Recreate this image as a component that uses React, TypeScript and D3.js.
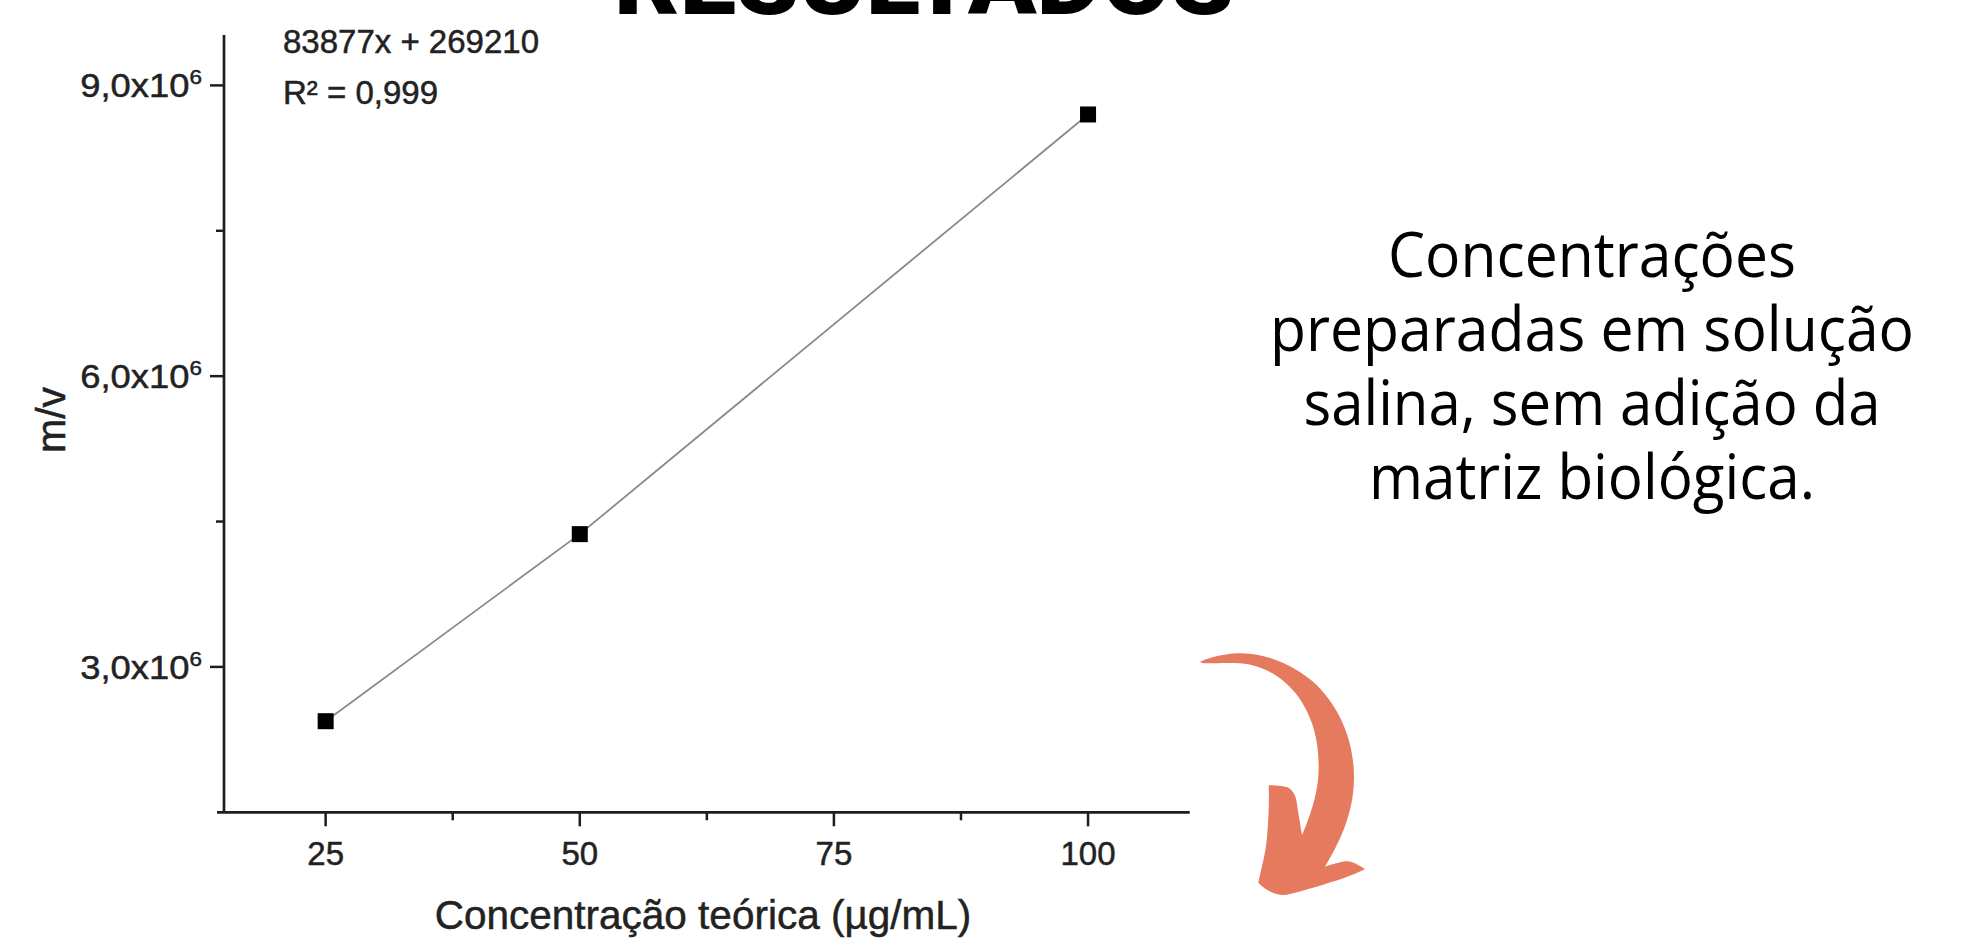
import React from "react";
import * as d3 from "d3";

const concentrations = [25, 50, 100];
const responses = [2.44e6, 4.37e6, 8.7e6];
const xMajorTicks = [25, 50, 75, 100];
const xMinorTicks = [37.5, 62.5, 87.5];
const yMajorTicks = [3e6, 6e6, 9e6];
const yMinorTicks = [4.5e6, 7.5e6];
const yTickLabels = ["3,0x10", "6,0x10", "9,0x10"];
const yTickExponent = "6";
const equationLines = ["83877x + 269210", "R² = 0,999"];
const xTitle = "Concentração teórica (µg/mL)";
const yTitle = "m/v";
const pageTitle = "RESULTADOS";
const noteLines = [
  "Concentrações",
  "preparadas em solução",
  "salina, sem adição da",
  "matriz biológica.",
];
const noteWidths = [408, 644, 577, 446];

const W = 1965;
const H = 939;
const axisColor = "#1e1e1e";
const textColor = "#222";
const chartFont = "'Liberation Sans', Arial, sans-serif";
const textStroke = { stroke: "#222", strokeWidth: 0.5 };

export default function App() {
  const x = d3.scaleLinear().domain([15, 110]).range([224, 1189.7]);
  const y = d3.scaleLinear().domain([1.5e6, 9.52e6]).range([812.3, 35]);
  const pts = concentrations.map((c, i) => [c, responses[i]] as [number, number]);
  const line = d3
    .line<[number, number]>()
    .x((d) => x(d[0]))
    .y((d) => y(d[1]));

  const x0 = x(15);
  const yBase = y(1.5e6);
  const majorLen = 14;
  const minorLen = 8;
  const sq = 16;

  const arrowPath =
    "M150,185 C200,165 240,160 275,160 C360,162 440,200 500,255 C575,330 612,430 612,530 " +
    "C612,620 585,700 525,800 C560,790 585,780 605,786 C620,792 635,800 645,808 " +
    "C600,830 560,842 500,860 C470,868 440,878 410,884 C385,888 355,878 325,848 " +
    "C335,800 348,760 352,700 C356,650 358,600 356,556 C375,555 395,557 412,562 " +
    "C430,570 440,590 442,620 C447,650 452,680 456,705 C480,650 500,590 505,530 " +
    "C510,440 495,370 455,305 C410,235 340,195 270,190 C230,188 200,190 180,190 " +
    "C165,190 155,190 150,185 Z";

  return (
    <svg
      width={W}
      height={H}
      style={{ position: "absolute", left: 0, top: 0, background: "#fff" }}
    >
      <rect x={0} y={0} width={W} height={H} fill="#fff" />
      {/* page title, cut at top */}
      <text
        x={614}
        y={14}
        fontFamily="Roboto, 'DejaVu Sans', sans-serif"
        fontWeight={900}
        fontSize={95}
        textLength={620}
        lengthAdjust="spacingAndGlyphs"
        fill="#000"
      >
        {pageTitle}
      </text>

      {/* axes */}
      <line x1={x0 - 7} x2={x(110)} y1={yBase} y2={yBase} stroke={axisColor} strokeWidth={2.7} />
      <line x1={x0} x2={x0} y1={yBase} y2={y(9.52e6)} stroke={axisColor} strokeWidth={2.7} />

      {xMajorTicks.map((t) => (
        <g key={"xt" + t}>
          <line x1={x(t)} x2={x(t)} y1={yBase} y2={yBase + majorLen} stroke={axisColor} strokeWidth={2.5} />
          <text
            x={x(t)}
            y={865}
            textAnchor="middle"
            fontFamily={chartFont}
            fontSize={33}
            fill={textColor}
            {...textStroke}
          >
            {t}
          </text>
        </g>
      ))}
      {xMinorTicks.map((t) => (
        <line key={"xm" + t} x1={x(t)} x2={x(t)} y1={yBase} y2={yBase + minorLen} stroke={axisColor} strokeWidth={2.5} />
      ))}
      {yMajorTicks.map((t, i) => (
        <g key={"yt" + t}>
          <line x1={x0 - majorLen} x2={x0} y1={y(t)} y2={y(t)} stroke={axisColor} strokeWidth={2.5} />
          <g transform={`translate(202,${y(t) + 12}) scale(1.07,1)`}>
            <text
              x={0}
              y={0}
              textAnchor="end"
              fontFamily={chartFont}
              fontSize={34}
              fill={textColor}
              {...textStroke}
            >
              {yTickLabels[i]}
              <tspan dy={-13} fontSize={21}>
                {yTickExponent}
              </tspan>
            </text>
          </g>
        </g>
      ))}
      {yMinorTicks.map((t) => (
        <line key={"ym" + t} x1={x0 - minorLen} x2={x0} y1={y(t)} y2={y(t)} stroke={axisColor} strokeWidth={2.5} />
      ))}

      {/* line and points */}
      <path d={line(pts) || ""} fill="none" stroke="#8a8a8a" strokeWidth={1.8} />
      {pts.map((p, i) => (
        <rect
          key={"p" + i}
          x={x(p[0]) - sq / 2}
          y={y(p[1]) - sq / 2}
          width={sq}
          height={sq}
          fill="#000"
        />
      ))}

      {/* equation */}
      {equationLines.map((l, i) => (
        <text
          key={"eq" + i}
          x={283}
          y={53 + i * 51}
          fontFamily={chartFont}
          fontSize={33}
          fill={textColor}
          {...textStroke}
        >
          {l}
        </text>
      ))}

      {/* axis titles */}
      <text
        x={703}
        y={929}
        textAnchor="middle"
        fontFamily={chartFont}
        fontSize={40.5}
        fill={textColor}
        {...textStroke}
      >
        {xTitle}
      </text>
      <text
        transform="translate(65,420) rotate(-90)"
        textAnchor="middle"
        fontFamily={chartFont}
        fontSize={41}
        fill={textColor}
        {...textStroke}
      >
        {yTitle}
      </text>

      {/* note */}
      {noteLines.map((l, i) => (
        <text
          key={"n" + i}
          x={1592}
          y={277 + i * 74}
          textAnchor="middle"
          fontFamily="'Open Sans', sans-serif"
          fontSize={62}
          textLength={noteWidths[i]}
          lengthAdjust="spacingAndGlyphs"
          fill="#000"
        >
          {l}
        </text>
      ))}

      {/* arrow */}
      <path d={arrowPath} transform="translate(1150,600) scale(0.3333)" fill="#E57A5F" />
    </svg>
  );
}
